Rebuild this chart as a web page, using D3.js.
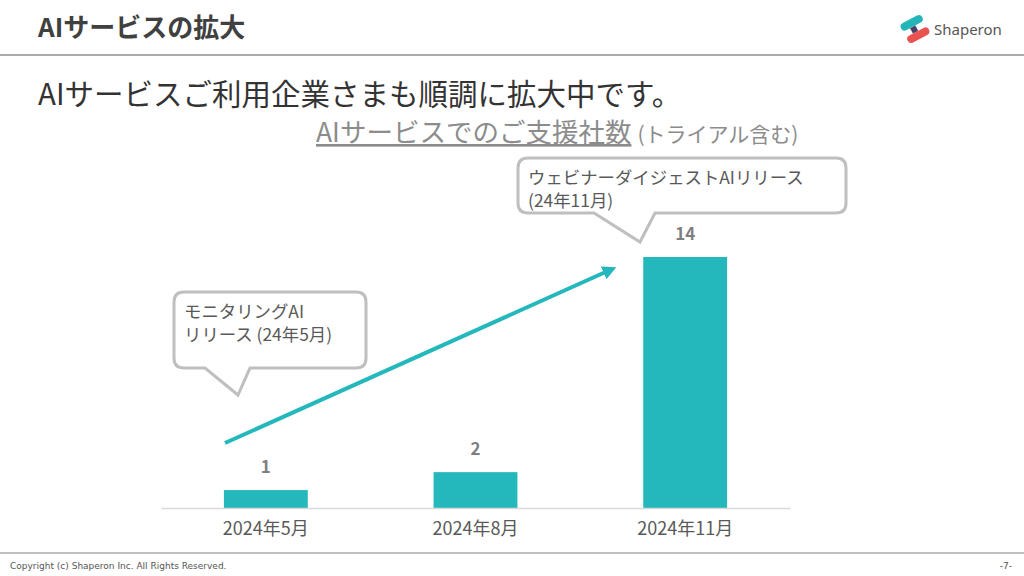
<!DOCTYPE html>
<html><head><meta charset="utf-8">
<script src="https://cdn.jsdelivr.net/npm/d3@7"></script>
<style>body{margin:0;background:#fff}svg{display:block;font-family:"Noto Sans CJK JP","Noto Sans",sans-serif}</style>
</head><body>
<svg id="c" width="1024" height="576"></svg>
<script>
var categories = ["2024年5月", "2024年8月", "2024年11月"];
var values = [1, 2, 14];

var svg = d3.select("#c");
var teal = "#24b8bc", grey = "#595959";

// header
svg.append("text").attr("x", 38).attr("y", 37).attr("font-size", 26).attr("font-weight", "bold").attr("fill", "#404040").text("AIサービスの拡大");
svg.append("line").attr("x1", 0).attr("x2", 1024).attr("y1", 55).attr("y2", 55).attr("stroke", "#aaa").attr("stroke-width", 2);
// logo
var logo = svg.append("g").attr("transform", "translate(915,29) rotate(-28)");
logo.append("rect").attr("x", -12).attr("y", -11).attr("width", 24).attr("height", 8).attr("rx", 4).attr("fill", "#23b5b8");
logo.append("rect").attr("x", -12).attr("y", 3).attr("width", 24).attr("height", 8).attr("rx", 4).attr("fill", "#e8524f");
logo.append("rect").attr("x", -4).attr("y", -3).attr("width", 6).attr("height", 6).attr("fill", "#4a3f6b");
svg.append("text").attr("x", 934).attr("y", 35).attr("font-size", 15).attr("fill", "#555").attr("font-family", "Noto Sans").text("Shaperon");

svg.append("text").attr("x", 38).attr("y", 105).attr("font-size", 29.5).attr("fill", "#333").text("AIサービスご利用企業さまも順調に拡大中です。");
var t = svg.append("text").attr("x", 316).attr("y", 142).attr("fill", "#8c8c8c");
t.append("tspan").attr("font-size", 26.5).attr("text-decoration", "underline").text("AIサービスでのご支援社数");
t.append("tspan").attr("font-size", 21).attr("dx", 6).text("(トライアル含む)");

// chart
var x = d3.scaleBand().domain(categories).range([161, 790]).paddingInner(0.6).paddingOuter(0.3);
var y = d3.scaleLinear().domain([0, 14]).range([508, 257]);

svg.selectAll(".bar").data(values).enter().append("rect")
  .attr("x", function(d, i) { return x(categories[i]); })
  .attr("y", function(d) { return y(d); })
  .attr("width", x.bandwidth())
  .attr("height", function(d) { return y(0) - y(d); })
  .attr("fill", teal);

svg.selectAll(".lbl").data(values).enter().append("text")
  .attr("x", function(d, i) { return x(categories[i]) + x.bandwidth() / 2; })
  .attr("y", function(d) { return y(d) - 17; })
  .attr("text-anchor", "middle").attr("font-size", 17).attr("font-weight", "bold").attr("fill", "#7f7f7f")
  .text(function(d) { return d; });

var ax = svg.append("g").attr("transform", "translate(0,508)").call(d3.axisBottom(x).tickSize(0).tickPadding(14));
ax.select(".domain").attr("stroke", "#d9d9d9").attr("stroke-width", 1.5);
ax.selectAll("text").attr("font-size", 18).attr("fill", grey).attr("font-family", "Noto Sans CJK JP");

// arrow
svg.append("defs").append("marker").attr("id", "ah").attr("viewBox", "0 0 10 10").attr("refX", 5).attr("refY", 5)
  .attr("markerWidth", 3.5).attr("markerHeight", 3.5).attr("orient", "auto")
  .append("path").attr("d", "M0,0L10,5L0,10z").attr("fill", teal);
svg.append("line").attr("x1", 225).attr("y1", 443).attr("x2", 610).attr("y2", 270)
  .attr("stroke", teal).attr("stroke-width", 4).attr("marker-end", "url(#ah)");

// callouts
function callout(x0, y0, w, h, t1, t2, tip, lines) {
  var r = 10;
  var p = "M" + (x0 + r) + "," + y0 + "H" + (x0 + w - r) + "Q" + (x0 + w) + "," + y0 + " " + (x0 + w) + "," + (y0 + r)
    + "V" + (y0 + h - r) + "Q" + (x0 + w) + "," + (y0 + h) + " " + (x0 + w - r) + "," + (y0 + h)
    + "H" + t2 + "L" + tip[0] + "," + tip[1] + "L" + t1 + "," + (y0 + h)
    + "H" + (x0 + r) + "Q" + x0 + "," + (y0 + h) + " " + x0 + "," + (y0 + h - r)
    + "V" + (y0 + r) + "Q" + x0 + "," + y0 + " " + (x0 + r) + "," + y0 + "Z";
  svg.append("path").attr("d", p).attr("fill", "#fff").attr("stroke", "#bfbfbf").attr("stroke-width", 3);
  lines.forEach(function(l, i) {
    svg.append("text").attr("x", x0 + 10).attr("y", y0 + 26 + i * 23).attr("font-size", 17.4).attr("fill", grey).text(l);
  });
}
callout(174, 292, 192, 76, 205, 250, [238, 395], ["モニタリングAI", "リリース (24年5月)"]);
callout(518, 158, 328, 55, 594, 655, [640, 242], ["ウェビナーダイジェストAIリリース", " (24年11月)"]);

// footer
svg.append("line").attr("x1", 0).attr("x2", 1024).attr("y1", 553).attr("y2", 553).attr("stroke", "#aaa").attr("stroke-width", 1.5);
svg.append("text").attr("x", 10).attr("y", 569).attr("font-size", 9).attr("fill", "#555").attr("font-family", "DejaVu Sans").text("Copyright (c) Shaperon Inc.  All Rights Reserved.");
svg.append("text").attr("x", 1012).attr("y", 569).attr("text-anchor", "end").attr("font-size", 9).attr("fill", "#555").attr("font-family", "DejaVu Sans").text("-7-");
</script>
</body></html>
